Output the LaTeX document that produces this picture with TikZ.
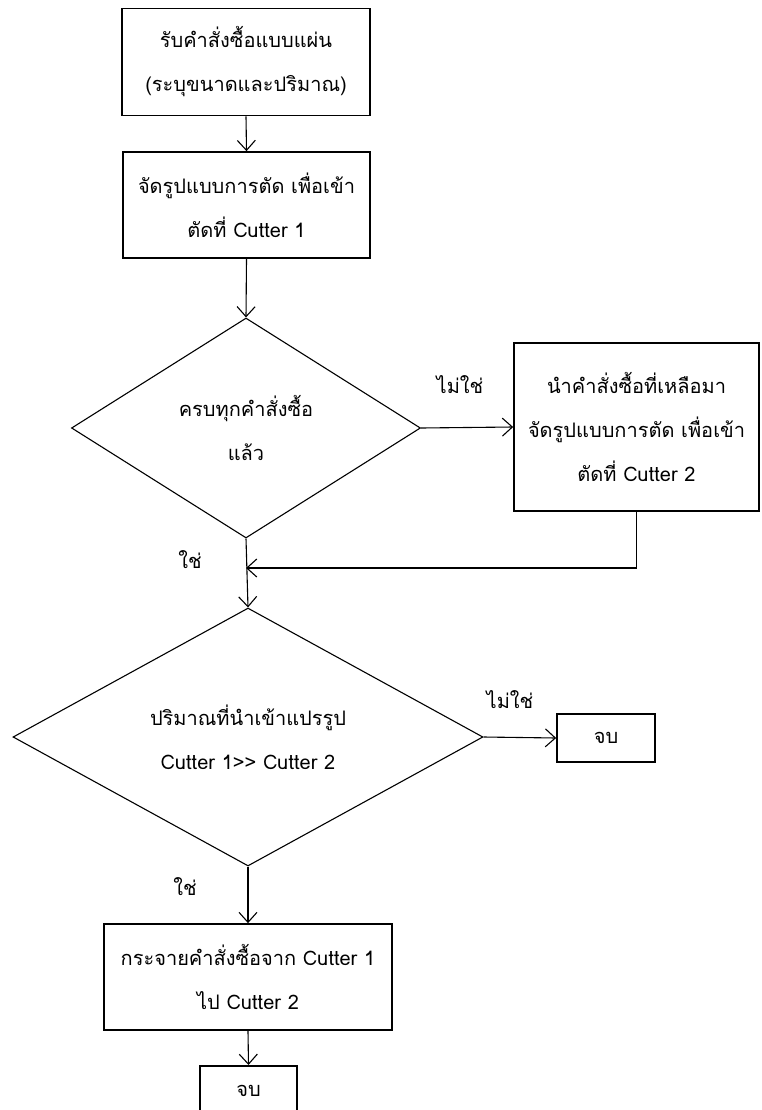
\documentclass[tikz,border=0pt]{standalone}
\usepackage{fontspec}
\setmainfont{Liberation Sans}
\newfontfamily\thai[Script=Thai]{Loma}
\usetikzlibrary{arrows.meta,shapes.geometric}

\tikzset{
  base/.style={font=\thai\fontsize{20}{44}\selectfont, align=center, inner sep=0pt},
  procbox/.style={base, draw, line width=1.7pt, rectangle},
  decision/.style={base, draw, line width=1.1pt, diamond},
  flow/.style={line width=1.1pt, -{Straight Barb[length=10pt,width=18pt,line width=1.1pt]}},
  tag/.style={font=\thai\fontsize{20}{24}\selectfont, inner sep=0pt}
}

\begin{document}
\begin{tikzpicture}[x=1pt,y=-1pt]
  \useasboundingbox (0,0) rectangle (761,1110);
  \clip (0,0) rectangle (761,1110);
  \fill[white] (0,0) rectangle (761,1110);

  % process steps
  \node[procbox, minimum width=248pt, minimum height=107pt] (order) at (246,62)
    {รับคำสั่งซื้อแบบแผ่น\\(ระบุขนาดและปริมาณ)};
  \node[procbox, minimum width=247pt, minimum height=106pt] (plan1) at (246.5,205)
    {จัดรูปแบบการตัด เพื่อเข้า\\ตัดที่ Cutter 1};
  \node[decision, minimum width=349pt, minimum height=220pt, aspect=1.586] (done) at (246,428)
    {ครบทุกคำสั่งซื้อ\\แล้ว};
  \node[procbox, minimum width=245pt, minimum height=168pt] (plan2) at (636.5,427)
    {นำคำสั่งซื้อที่เหลือมา\\จัดรูปแบบการตัด เพื่อเข้า\\ตัดที่ Cutter 2};
  \coordinate (merge) at (246,568);
  \node[decision, minimum width=470pt, minimum height=258pt, aspect=1.822] (qty) at (248,737)
    {ปริมาณที่นำเข้าแปรรูป\\Cutter 1>> Cutter 2};
  \node[procbox, minimum width=98pt, minimum height=48pt] (end1) at (606,738) {จบ};
  \node[procbox, minimum width=288pt, minimum height=106pt] (spread) at (248,977)
    {กระจายคำสั่งซื้อจาก Cutter 1\\ไป Cutter 2};
  \node[procbox, minimum width=97pt, minimum height=50pt, anchor=north] (end2) at (248.5,1065) {จบ};

  % connectors
  \draw[flow] (order.south) -- (plan1.north);
  \draw[flow] (plan1.south) -- (done.north);
  \draw[flow] (done.east) -- (plan2.west);
  \draw[flow] (plan2.south) |- (merge);
  \draw[flow] (done.south) -- (qty.north);
  \draw[flow] (qty.east) -- (end1.west);
  \draw[flow] (qty.south) -- (spread.north);
  \draw[flow] (spread.south) -- (end2.north);

  % branch labels
  \node[tag] (no1) at (460,385) {ไม่ใช่};
  \node[tag] (yes1) at (190,560) {ใช่};
  \node[tag] (no2) at (510,700) {ไม่ใช่};
  \node[tag] (yes2) at (185,887) {ใช่};
\end{tikzpicture}
\end{document}
